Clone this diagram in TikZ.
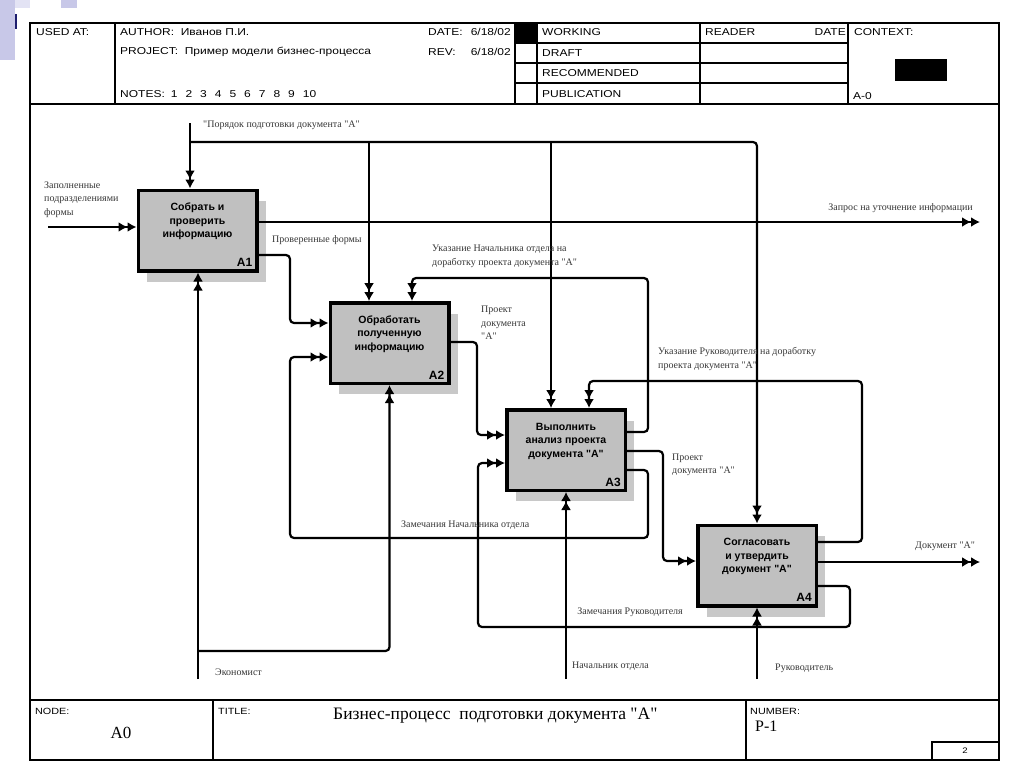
\documentclass[tikz,border=0pt]{standalone}
\usepackage{fontspec}
\setmainfont{Liberation Serif}[Ligatures=TeXOff]
\newfontfamily\hdr[FakeStretch=1.2]{Liberation Sans}
\newfontfamily\bsans{Liberation Sans}
\usetikzlibrary{arrows.meta,shadows}
\definecolor{boxgray}{RGB}{192,192,192}
\definecolor{shadowgray}{RGB}{200,200,200}
\definecolor{lav}{RGB}{200,200,232}
\definecolor{navyc}{RGB}{30,30,110}
\definecolor{labelc}{RGB}{55,55,55}
\begin{document}
\begin{tikzpicture}[x=1pt,y=-1pt,
  gridl/.style={line width=2pt},
  hdrtext/.style={font=\hdr\fontsize{10}{12}\selectfont, anchor=west, inner sep=0},
  smalltext/.style={font=\hdr\fontsize{9}{11}\selectfont, anchor=west, inner sep=0},
  procbox/.style={draw, line width=3.5pt, fill=boxgray, minimum width=118.5pt, minimum height=80.5pt, inner sep=0,
    drop shadow={shadow xshift=9pt, shadow yshift=-11pt, fill=shadowgray, opacity=1}},
  boxtext/.style={font=\bsans\bfseries\fontsize{10.5}{13.5}\selectfont, align=center, inner sep=0},
  boxid/.style={font=\bsans\bfseries\fontsize{12}{14}\selectfont, inner sep=0, anchor=base east},
  lbl/.style={font=\fontsize{10}{13.5}\selectfont, text=labelc, inner sep=0, anchor=west, align=left},
  conn/.style={line width=2.2pt, rounded corners=4pt},
  thinconn/.style={line width=1.5pt, rounded corners=4pt},
  arr/.style={-{Latex[length=9pt,width=10pt] Latex[length=9pt,width=10pt]}}
]
\useasboundingbox (0,0) rectangle (1024,768);
\fill[white] (0,0) rectangle (1024,768);
% slide decoration
\fill[lav] (0,0) rectangle (15,60);
\fill[lav!50] (15,0) rectangle (30,8);
\fill[lav] (61,0) rectangle (77,8);
\fill[navyc] (15,14) rectangle (17,29);

% frame and header
\draw[line width=2.4pt] (30,23) rectangle (999,760);
\draw[gridl] (30,104) -- (999,104);
\draw[gridl] (115,23) -- (115,104);
\draw[gridl] (515,23) -- (515,104);
\draw[gridl] (537,23) -- (537,104);
\draw[gridl] (700,23) -- (700,104);
\draw[gridl] (848,23) -- (848,104);
\foreach \yy in {43,63,83} \draw[gridl] (515,\yy) -- (848,\yy);
\fill (515,23) rectangle (537,43);
\fill (895,59) rectangle (947,81);

\node[hdrtext] (usedat) at (36,32) {USED AT:};
\node[hdrtext] (author) at (120,32) {AUTHOR:\ \ Иванов П.И.};
\node[hdrtext] (project) at (120,52) {PROJECT:\ \ Пример модели бизнес-процесса};
\node[hdrtext] (notes) at (120,94) {NOTES:\hspace{6pt}1\hspace{8pt}2\hspace{8pt}3\hspace{8pt}4\hspace{8pt}5\hspace{8pt}6\hspace{8pt}7\hspace{8pt}8\hspace{8pt}9\hspace{8pt}10};
\node[hdrtext] (datel) at (428,32) {DATE:};
\node[hdrtext, anchor=east] (datev) at (511,32) {6/18/02};
\node[hdrtext] (revl) at (428,52) {REV:};
\node[hdrtext, anchor=east] (revv) at (511,52) {6/18/02};
\node[hdrtext] (working) at (542,32) {WORKING};
\node[hdrtext] (draft) at (542,53) {DRAFT};
\node[hdrtext] (recom) at (542,73) {RECOMMENDED};
\node[hdrtext] (publ) at (542,94) {PUBLICATION};
\node[hdrtext] (reader) at (705,32) {READER};
\node[hdrtext, anchor=east] (rdate) at (846,32) {DATE};
\node[hdrtext] (context) at (854,32) {CONTEXT:};
\node[hdrtext] (actx) at (853,96) {A-0};

% footer
\draw[line width=2.6pt] (30,700) -- (999,700);
\draw[gridl] (213,700) -- (213,760);
\draw[gridl] (746,700) -- (746,760);
\draw[gridl] (932,742) rectangle (999,760);
\node[smalltext] (nodel) at (35,711) {NODE:};
\node[smalltext] (titlel) at (218,711) {TITLE:};
\node[smalltext] (numl) at (750,711) {NUMBER:};
\node[font=\fontsize{17}{20}\selectfont, inner sep=0] (nodev) at (121,733) {A0};
\node[font=\fontsize{17.5}{20}\selectfont, inner sep=0, anchor=west] (titlev) at (333,716) {Бизнес-процесс\ \ подготовки документа "A"};
\node[font=\fontsize{16}{19}\selectfont, inner sep=0, anchor=west] (numv) at (755,726) {P-1};
\node[font=\hdr\fontsize{8}{10}\selectfont, inner sep=0] (pg) at (965,751) {2};

% boxes
\node[procbox] (a1) at (197.5,230.5) {};
\node[procbox] (a2) at (389.5,343) {};
\node[procbox] (a3) at (566,450) {};
\node[procbox] (a4) at (757,565.5) {};
\node[boxtext] (a1t) at ([yshift=9pt]a1.center) {Собрать и\\проверить\\информацию};
\node[boxtext] (a2t) at ([yshift=9pt]a2.center) {Обработать\\полученную\\информацию};
\node[boxtext] (a3t) at ([yshift=9pt]a3.center) {Выполнить\\анализ проекта\\документа "A"};
\node[boxtext] (a4t) at ([yshift=9pt]a4.center) {Согласовать\\и утвердить\\документ "A"};
\node[boxid] (a1n) at ([xshift=-6pt,yshift=6pt]a1.south east) {A1};
\node[boxid] (a2n) at ([xshift=-6pt,yshift=6pt]a2.south east) {A2};
\node[boxid] (a3n) at ([xshift=-6pt,yshift=6pt]a3.south east) {A3};
\node[boxid] (a4n) at ([xshift=-6pt,yshift=6pt]a4.south east) {A4};

% free ends
\coordinate (ctrlin) at (190,123);
\coordinate (in1) at (48,227);
\coordinate (out1) at (980,222);
\coordinate (out4) at (980,562);
\coordinate (m1) at (198,679);
\coordinate (m3) at (566,679);
\coordinate (m4) at (757,679);

% controls
\draw[conn,arr] (ctrlin) -- (ctrlin |- a1.north);
\draw[conn,arr] (ctrlin |- 0,142) -- (a4.north |- 0,142) -- (a4.north);
\draw[thinconn,arr] (369,142) -- (369,0 |- a2.north);
\draw[thinconn,arr] (551,142) -- (551,0 |- a3.north);

% inputs / outputs
\draw[conn,arr] (in1) -- (in1 -| a1.west);
\draw[conn,arr] (a1.east |- 0,222) -- (out1);
\draw[conn,arr] (a1.east |- 0,255) -- (290,255) -- (290,323) -- (a2.west |- 0,323);
\draw[conn,arr] (a2.east |- 0,342) -- (477,342) -- (477,435) -- (a3.west |- 0,435);
\draw[conn,arr] (a3.east |- 0,432) -- (648,432) -- (648,278) -- (412,278) -- (412,0 |- a2.north);
\draw[conn,arr] (a3.east |- 0,470) -- (648,470) -- (648,538) -- (290,538) -- (290,357) -- (a2.west |- 0,357);
\draw[conn,arr] (a3.east |- 0,451) -- (663,451) -- (663,561) -- (a4.west |- 0,561);
\draw[conn,arr] (a4.east |- 0,542) -- (862,542) -- (862,381) -- (589,381) -- (589,0 |- a3.north);
\draw[conn,arr] (a4.east |- 0,586) -- (850,586) -- (850,627) -- (478,627) -- (478,463) -- (a3.west |- 0,463);
\draw[thinconn,arr] (a4.east |- 0,562) -- (out4);

% mechanisms
\draw[conn,arr] (m1) -- (m1 |- a1.south);
\draw[conn,arr] (m1 |- 0,651) -- (a2.south |- 0,651) -- (a2.south);
\draw[thinconn,arr] (m3) -- (a3.south);
\draw[thinconn,arr] (m4) -- (a4.south);

% labels
\node[lbl] (l1) at (203,125) {"Порядок подготовки документа "A"};
\node[lbl] (l2) at (44,199.5) {Заполненные\\подразделениями\\формы};
\node[lbl] (l3) at (272,240) {Проверенные формы};
\node[lbl, anchor=east] (l4) at (973,208) {Запрос на уточнение информации};
\node[lbl] (l5) at (432,256.5) {Указание Начальника отдела на\\доработку проекта документа "A"};
\node[lbl] (l6) at (481,323) {Проект\\документа\\"A"};
\node[lbl] (l7) at (658,359) {Указание Руководителя на доработку\\проекта документа "A"};
\node[lbl] (l8) at (672,465) {Проект\\документа "A"};
\node[lbl] (l9) at (401,525) {Замечания Начальника отдела};
\node[lbl] (l10) at (915,546) {Документ "A"};
\node[lbl, anchor=east] (l11) at (683,612) {Замечания Руководителя};
\node[lbl] (l12) at (215,672) {Экономист};
\node[lbl] (l13) at (572,666) {Начальник отдела};
\node[lbl] (l14) at (775,668) {Руководитель};
\end{tikzpicture}
\end{document}
